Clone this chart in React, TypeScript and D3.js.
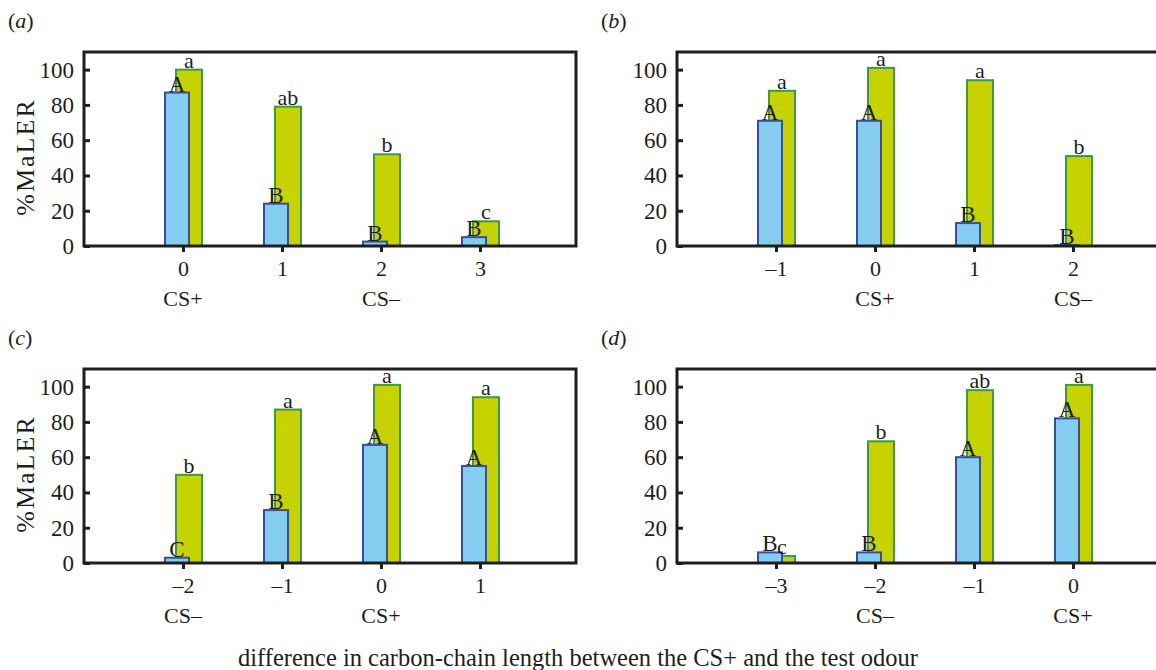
import React, { useRef, useEffect } from "react";
import * as d3 from "d3";

// panel (a)
const xA = [0, 1, 2, 3];
const blueA = [87, 24, 2.5, 5];
const greenA = [100, 79, 52, 14];
const blueLetA = ["A", "B", "B", "B"];
const greenLetA = ["a", "ab", "b", "c"];
const csA = ["CS+", "", "CS–", ""];

// panel (b)
const xB = [-1, 0, 1, 2];
const blueB = [71, 71, 13, 0.5];
const greenB = [88, 101, 94, 51];
const blueLetB = ["A", "A", "B", "B"];
const greenLetB = ["a", "a", "a", "b"];
const csB = ["", "CS+", "", "CS–"];

// panel (c)
const xC = [-2, -1, 0, 1];
const blueC = [3, 30, 67, 55];
const greenC = [50, 87, 101, 94];
const blueLetC = ["C", "B", "A", "A"];
const greenLetC = ["b", "a", "a", "a"];
const csC = ["CS–", "", "CS+", ""];

// panel (d)
const xD = [-3, -2, -1, 0];
const blueD = [6, 6, 60, 82];
const greenD = [4, 69, 98, 101];
const blueLetD = ["B", "B", "A", "A"];
const greenLetD = ["c", "b", "ab", "a"];
const csD = ["", "CS–", "", "CS+"];

const yTicks = [0, 20, 40, 60, 80, 100];

const font = "Liberation Serif, Tinos, DejaVu Serif, serif";
const ink = "#1e1e1e";

const App = () => {
  const svgRef = useRef(null);

  useEffect(() => {
    const svg = d3.select(svgRef.current);
    svg.selectAll("*").remove();

    const panels = [
      { id: "a", xs: xA, blue: blueA, green: greenA, bl: blueLetA, gl: greenLetA, cs: csA, left: 84, top: 52, title: true },
      { id: "b", xs: xB, blue: blueB, green: greenB, bl: blueLetB, gl: greenLetB, cs: csB, left: 677, top: 52, title: false },
      { id: "c", xs: xC, blue: blueC, green: greenC, bl: blueLetC, gl: greenLetC, cs: csC, left: 84, top: 369, title: true },
      { id: "d", xs: xD, blue: blueD, green: greenD, bl: blueLetD, gl: greenLetD, cs: csD, left: 677, top: 369, title: false },
    ];

    const ph = 194;
    const pw = 492;

    panels.forEach((p) => {
      const bottom = p.top + ph;
      const x = d3
        .scaleLinear()
        .domain([p.xs[0] - 1, p.xs[p.xs.length - 1] + 1])
        .range([p.left, p.left + 495]);
      const y = d3.scaleLinear().domain([0, 110]).range([bottom, p.top]);

      const g = svg.append("g").style("font-family", font);

      // panel letter
      const lab = g
        .append("text")
        .attr("x", p.left - 76)
        .attr("y", p.top - 24)
        .attr("font-size", 22)
        .attr("fill", ink);
      lab.append("tspan").text("(");
      lab.append("tspan").attr("font-style", "italic").text(p.id);
      lab.append("tspan").text(")");

      // bars: green behind, blue in front
      const idx = p.xs.map((_, i) => i);
      g.selectAll(".green")
        .data(idx)
        .enter()
        .append("rect")
        .attr("x", (i) => x(p.xs[i]) - 7)
        .attr("y", (i) => y(p.green[i]))
        .attr("width", 26)
        .attr("height", (i) => y(0) - y(p.green[i]))
        .attr("fill", "#c6d300")
        .attr("stroke", "#3b9a45")
        .attr("stroke-width", 2);

      g.selectAll(".blue")
        .data(idx)
        .enter()
        .append("rect")
        .attr("x", (i) => x(p.xs[i]) - 18)
        .attr("y", (i) => y(p.blue[i]))
        .attr("width", 24)
        .attr("height", (i) => y(0) - y(p.blue[i]))
        .attr("fill", "#84cdf1")
        .attr("stroke", "#3c4b9e")
        .attr("stroke-width", 2);

      // significance letters
      g.selectAll(".gl")
        .data(idx)
        .enter()
        .append("text")
        .attr("x", (i) => x(p.xs[i]) + 6)
        .attr("y", (i) => y(p.green[i]) - 2)
        .attr("text-anchor", "middle")
        .attr("font-size", 22)
        .attr("fill", ink)
        .text((i) => p.gl[i]);

      g.selectAll(".bl")
        .data(idx)
        .enter()
        .append("text")
        .attr("x", (i) => x(p.xs[i]) - 6)
        .attr("y", (i) => y(p.blue[i]) - 1)
        .attr("text-anchor", "middle")
        .attr("font-size", 23)
        .attr("fill", ink)
        .text((i) => p.bl[i]);

      // frame
      g.append("rect")
        .attr("x", p.left)
        .attr("y", p.top)
        .attr("width", pw)
        .attr("height", ph)
        .attr("fill", "none")
        .attr("stroke", ink)
        .attr("stroke-width", 3);

      // y axis (ticks point inward)
      const ya = g
        .append("g")
        .attr("transform", `translate(${p.left},0)`)
        .call(d3.axisLeft(y).tickValues(yTicks).tickSize(-6).tickPadding(10));
      ya.attr("font-family", null).attr("font-size", null);
      ya.select(".domain").remove();
      ya.selectAll("line").attr("stroke", ink).attr("stroke-width", 3);
      ya.selectAll("text")
        .style("font-family", font)
        .attr("font-size", 23)
        .attr("fill", ink);

      // x axis (ticks point outward)
      const xa = g
        .append("g")
        .attr("transform", `translate(0,${bottom})`)
        .call(
          d3
            .axisBottom(x)
            .tickValues(p.xs)
            .tickSize(6)
            .tickPadding(8)
            .tickFormat((d) => (d < 0 ? "\u2013" + Math.abs(d) : String(d)))
        );
      xa.attr("font-family", null).attr("font-size", null);
      xa.select(".domain").remove();
      xa.selectAll("line").attr("stroke", ink).attr("stroke-width", 3);
      xa.selectAll("text")
        .style("font-family", font)
        .attr("font-size", 22)
        .attr("fill", ink);

      g.selectAll(".cs")
        .data(idx.filter((i) => p.cs[i]))
        .enter()
        .append("text")
        .attr("x", (i) => x(p.xs[i]))
        .attr("y", bottom + 60)
        .attr("text-anchor", "middle")
        .attr("font-size", 22)
        .attr("fill", ink)
        .text((i) => p.cs[i]);

      if (p.title) {
        g.append("text")
          .attr("transform", `translate(34,${(p.top + bottom) / 2 + 8}) rotate(-90)`)
          .attr("text-anchor", "middle")
          .attr("font-size", 26)
          .attr("letter-spacing", 2)
          .attr("fill", ink)
          .text("%MaLER");
      }
    });

    svg
      .append("text")
      .attr("x", 578)
      .attr("y", 666)
      .attr("text-anchor", "middle")
      .style("font-family", font)
      .attr("font-size", 24.5)
      .attr("fill", ink)
      .text("difference in carbon-chain length between the CS+ and the test odour");
  }, []);

  return (
    <svg
      ref={svgRef}
      width={1156}
      height={670}
      style={{ position: "absolute", left: 0, top: 0, background: "#fff" }}
    ></svg>
  );
};

export default App;
